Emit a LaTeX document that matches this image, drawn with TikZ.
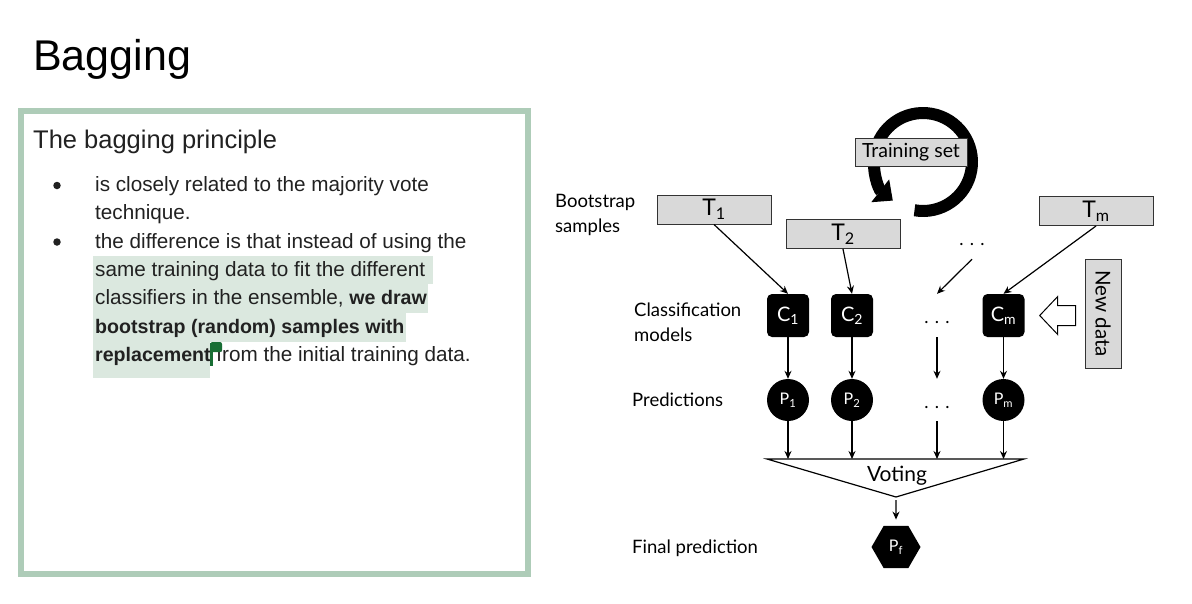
\documentclass[tikz,border=0pt]{standalone}
\usepackage{fontspec}
\setmainfont{Liberation Sans}
\newfontfamily\gillfont{Lato}
\usetikzlibrary{arrows.meta, positioning, calc, shapes.geometric}

\definecolor{framegreen}{RGB}{174,204,184}
\definecolor{markgreen}{RGB}{219,232,223}
\definecolor{cursorgreen}{RGB}{24,110,52}
\definecolor{boxgray}{RGB}{217,217,217}
\definecolor{textdark}{RGB}{33,33,33}

\newcommand{\bd}[1]{{\fontsize{19.6}{24}\selectfont\bfseries #1}}

\begin{document}
\begin{tikzpicture}[x=1pt, y=-1pt,
  sample/.style = {draw=black!80, fill=boxgray, line width=1pt, minimum width=114pt, minimum height=29pt, inner sep=0pt, font=\gillfont\fontsize{23}{24}\selectfont},
  model/.style = {fill=black, rounded corners=5pt, minimum width=42pt, minimum height=43pt, inner sep=0pt, text=white, font=\gillfont\fontsize{20}{20}\selectfont},
  pred/.style = {fill=black, circle, minimum size=42pt, inner sep=0pt, text=white, font=\gillfont\fontsize{16}{16}\selectfont},
  rowlabel/.style = {anchor=west, align=left, inner sep=0pt, font=\gillfont\fontsize{18.5}{25}\selectfont},
  gap/.style = {inner sep=0pt, text height=0pt, text depth=0pt, font=\gillfont\fontsize{18}{20}\selectfont},
  arrow/.style = {line width=1.2pt, -{Stealth[length=8pt, width=7pt]}},
  bodyline/.style = {anchor=base west, inner sep=0pt, text=textdark, font=\fontsize{20.7}{24}\selectfont},
  bullet/.style = {circle, fill=textdark, minimum size=7.5pt, inner sep=0pt}
]
  \useasboundingbox (0,0) rectangle (1192,603);

  % Slide title and text frame
  \node[anchor=base west, inner sep=0pt, font=\fontsize{43}{48}\selectfont] (title) at (33,70) {Bagging};
  \draw[framegreen, line width=6pt] (20.5,111) rectangle (528,574);
  \node[anchor=base west, inner sep=0pt, text=textdark, font=\fontsize{25.5}{30}\selectfont] (heading) at (33,148) {The bagging principle};

  % Highlighted passage and cursor
  \fill[markgreen] (93,256) rectangle (433,284);
  \fill[markgreen] (93,284) rectangle (428,313);
  \fill[markgreen] (93,313) rectangle (406,342);
  \fill[markgreen] (93,342) rectangle (210,378);

  % Bullet list
  \node[bullet] (bullet1) at (57,185.5) {};
  \node[bullet] (bullet2) at (57,242) {};
  \node[bodyline] (line1) at (95,191.5) {is closely related to the majority vote};
  \node[bodyline] (line2) at (95,219.8) {technique.};
  \node[bodyline] (line3) at (95,248.1) {the difference is that instead of using the};
  \node[bodyline] (line4) at (95,276.4) {same training data to fit the different};
  \node[bodyline] (line5) at (95,304.7) {classifiers in the ensemble, \bd{we draw}};
  \node[bodyline] (line6) at (95,333) {\bd{bootstrap (random) samples with}};
  \node[bodyline] (line7) at (95,361.3) {\bd{replacement} from the initial training data.};
  \fill[cursorgreen] (210,343) rectangle (212.5,366);
  \fill[cursorgreen, rounded corners=2pt] (210.5,342) rectangle (222,352);

  % Training set with circular arrow
  \draw[line width=12pt, -{Triangle[length=16pt, width=28pt]}] (923,162) ++(100:49) arc[start angle=100, end angle=-232, radius=49];
  \node[sample, minimum width=112pt, minimum height=28pt, font=\gillfont\fontsize{19.5}{20}\selectfont] (trainset) at (911,152) {Training set};

  % Bootstrap samples
  \node[sample] (t1) at (714,209.5) {T\textsubscript{1}};
  \node[sample] (t2) at (843,234) {T\textsubscript{2}};
  \node[gap, minimum height=28pt] (tgap) at (972,245) {. . .};
  \node[sample] (tm) at (1096,211) {T\textsubscript{m}};

  % Classification models
  \node[model] (c1) at (788,315.5) {C\textsubscript{1}};
  \node[model] (c2) at (852,315.5) {C\textsubscript{2}};
  \node[gap, minimum height=43pt] (cgap) at (937,315.5) {\raisebox{-8pt}{. . .}};
  \node[model] (cm) at (1003.5,315.5) {C\textsubscript{m}};

  % Predictions
  \node[pred] (p1) at (788,400) {P\textsubscript{1}};
  \node[pred] (p2) at (852,400) {P\textsubscript{2}};
  \node[gap, minimum height=42pt] (pgap) at (937,400) {\raisebox{-8pt}{. . .}};
  \node[pred] (pm) at (1003.5,400) {P\textsubscript{m}};

  % Sample to model
  \draw[arrow] (t1.south) -- (c1.north);
  \draw[arrow] (t2.south) -- (c2.north);
  \draw[arrow] (tgap.south) -- (cgap.north);
  \draw[arrow] (tm.south) -- (cm.north);

  % Voting
  \coordinate (vl) at (767,459);
  \coordinate (vr) at (1024,459);
  \coordinate (vb) at (896,497);
  \draw[line width=1.2pt] (vl) -- (vr) -- (vb) -- cycle;
  \node[anchor=base, inner sep=0pt, font=\gillfont\fontsize{21}{22}\selectfont] (vote) at (897,481) {Voting};

  \foreach \n in {1,2,gap,m} {
    \draw[arrow] (c\n.south) -- (p\n.north);
    \draw[arrow] (p\n.south) -- (p\n.south |- vl);
  }

  % Final prediction
  \node[regular polygon, regular polygon sides=6, minimum size=49pt, fill=black, inner sep=0pt, text=white, font=\gillfont\fontsize{16}{16}\selectfont] (pf) at (896,547) {P\textsubscript{f}};
  \draw[arrow, shorten <=3pt, shorten >=6pt] (vb) -- (pf.north);

  % New data
  \node[sample, rotate=-90, minimum width=109pt, minimum height=36pt, font=\gillfont\fontsize{20.5}{22}\selectfont] (newdata) at (1103,313.5) {New data};
  \draw[line width=1pt, fill=white] ($(cm.east)+(15,0)$) -- ++(18,-19) -- ++(0,9) -- ++(18,0) -- ++(0,20) -- ++(-18,0) -- ++(0,9) -- cycle;

  % Row labels
  \node[rowlabel] (lblboot) at (555,214.5) {Bootstrap\\samples};
  \node[rowlabel] (lblclass) at (634,322.5) {Classification\\models};
  \node[rowlabel] (lblpred) at (632,400) {Predictions};
  \node[rowlabel] (lblfinal) at (632,548) {Final prediction};

\end{tikzpicture}
\end{document}
